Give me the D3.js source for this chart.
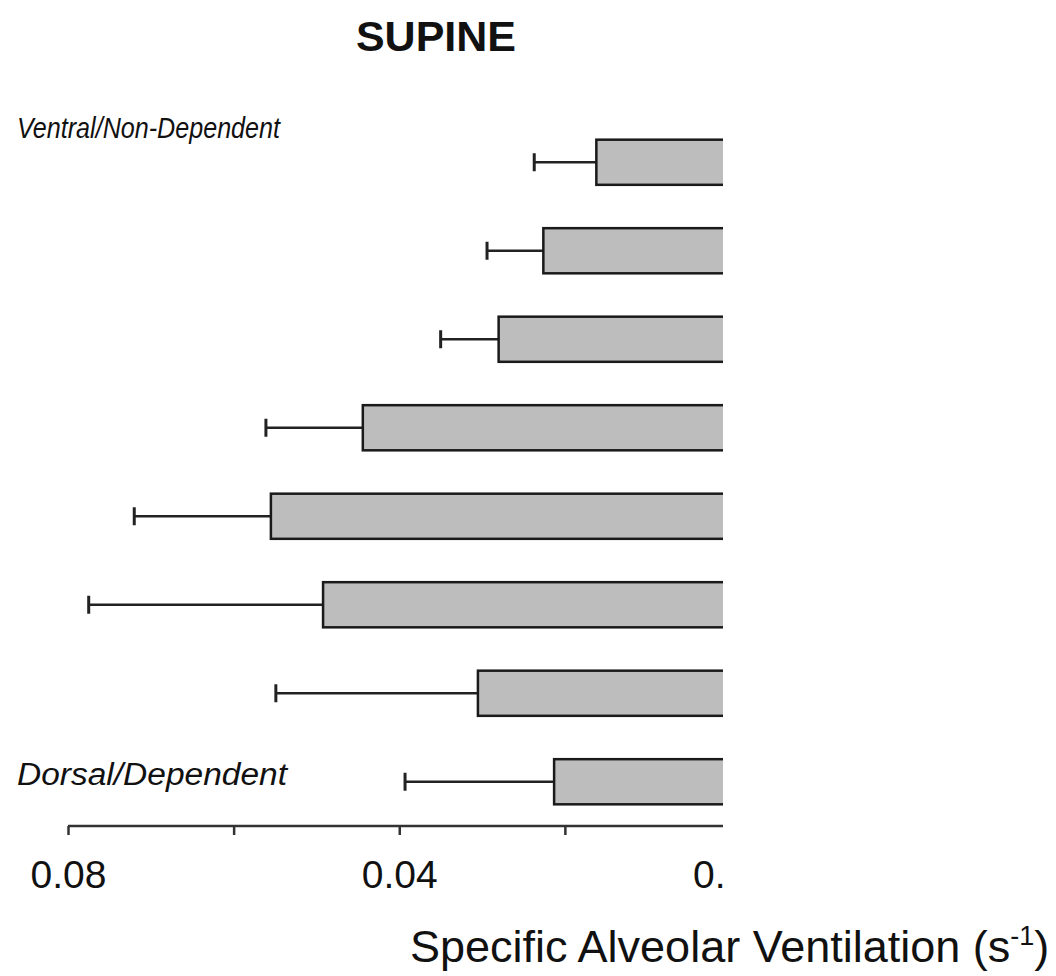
<!DOCTYPE html>
<html>
<head>
<meta charset="utf-8">
<script src="https://cdn.jsdelivr.net/npm/d3@7"></script>
<style>
  body { margin: 0; background: #fff; }
  text { font-family: "Liberation Sans", Arial, sans-serif; fill: #111; }
</style>
</head>
<body>
<div class="chart"></div>
<script>
// regions, top (ventral) to bottom (dorsal)
const regions = ['R1','R2','R3','R4','R5','R6','R7','R8'];
const means = [0.0162, 0.0226, 0.0280, 0.0444, 0.0555, 0.0492, 0.0305, 0.0213];
const errs  = [0.0075, 0.0068, 0.0070, 0.0117, 0.0165, 0.0283, 0.0244, 0.0180];
const tickVals = [0.08, 0.06, 0.04, 0.02, 0];
const labelVals = [0.08, 0.04, 0];

const width = 1056, height = 976;
const clipRight = 723;

const svg = d3.select(".chart").append("svg")
    .attr("width", width)
    .attr("height", height);

const defs = svg.append("defs");
defs.append("clipPath").attr("id", "clip")
  .append("rect")
    .attr("x", 0).attr("y", 0)
    .attr("width", clipRight).attr("height", height);
defs.append("clipPath").attr("id", "clipText")
  .append("rect")
    .attr("x", 0).attr("y", 0)
    .attr("width", clipRight + 2).attr("height", height);

// reversed axis: 0.08 on the left, 0 on the right
const x = d3.scaleLinear().domain([0.08, 0]).range([68, 730.5]);
const y = d3.scaleBand().domain(regions).range([118, 826])
    .paddingInner(0.49).paddingOuter(0.245);

const plot = svg.append("g").attr("clip-path", "url(#clip)");

const data = regions.map((r, i) => ({region: r, mean: means[i], err: errs[i]}));

// error bars (drawn first so the bar covers the line start)
const eb = plot.selectAll(".err").data(data).enter().append("g").attr("class", "err");
eb.append("line")
    .attr("x1", d => x(d.mean))
    .attr("x2", d => x(d.mean + d.err))
    .attr("y1", d => y(d.region) + y.bandwidth()/2)
    .attr("y2", d => y(d.region) + y.bandwidth()/2)
    .attr("stroke", "#222").attr("stroke-width", 2.5);
eb.append("line")
    .attr("x1", d => x(d.mean + d.err))
    .attr("x2", d => x(d.mean + d.err))
    .attr("y1", d => y(d.region) + y.bandwidth()/2 - 9)
    .attr("y2", d => y(d.region) + y.bandwidth()/2 + 9)
    .attr("stroke", "#222").attr("stroke-width", 3);

plot.selectAll(".bar").data(data).enter().append("rect")
    .attr("class", "bar")
    .attr("x", d => x(d.mean))
    .attr("y", d => y(d.region))
    .attr("width", d => x(0) - x(d.mean))
    .attr("height", y.bandwidth())
    .attr("fill", "#bdbdbd")
    .attr("stroke", "#1a1a1a")
    .attr("stroke-width", 2.5);

const xAxis = d3.axisBottom(x)
    .tickValues(tickVals)
    .tickSizeInner(9)
    .tickSizeOuter(0)
    .tickPadding(25)
    .tickFormat(d => labelVals.includes(d) ? d3.format(".2f")(d) : "");

const ax = svg.append("g")
    .attr("clip-path", "url(#clipText)")
  .append("g")
    .attr("transform", "translate(0,826)")
    .call(xAxis);
ax.select(".domain").attr("stroke", "#333").attr("stroke-width", 2.5)
    .attr("d", "M68,0H" + clipRight);
ax.selectAll(".tick line").attr("stroke", "#333").attr("stroke-width", 2.5);
ax.selectAll(".tick text")
    .style("font-size", "39px")
    .attr("fill", "#111");

// title and region labels
svg.append("text")
    .attr("x", 436).attr("y", 51)
    .attr("text-anchor", "middle")
    .style("font-size", "43px").style("font-weight", "bold")
    .text("SUPINE");

svg.append("text")
    .attr("x", 17).attr("y", 138)
    .attr("textLength", 263).attr("lengthAdjust", "spacingAndGlyphs")
    .style("font-size", "29px").style("font-style", "italic")
    .text("Ventral/Non-Dependent");

svg.append("text")
    .attr("x", 17).attr("y", 785)
    .attr("textLength", 270).attr("lengthAdjust", "spacingAndGlyphs")
    .style("font-size", "31px").style("font-style", "italic")
    .text("Dorsal/Dependent");

// axis title with superscript
const t = svg.append("text")
    .attr("x", 410).attr("y", 962)
    .style("font-size", "45px");
t.append("tspan").text("Specific Alveolar Ventilation (s");
t.append("tspan").attr("dy", -17).style("font-size", "27px").text("-1");
t.append("tspan").attr("dy", 17).text(")");
</script>
</body>
</html>
